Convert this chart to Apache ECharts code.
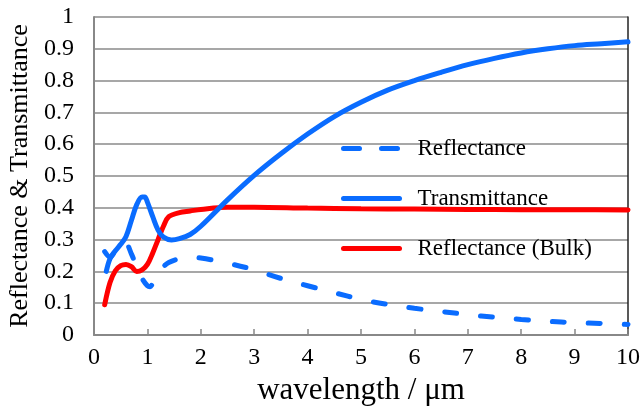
<!DOCTYPE html>
<html>
<head>
<meta charset="utf-8">
<script src="https://cdn.jsdelivr.net/npm/echarts@6/dist/echarts.min.js"></script>
<style>html,body{margin:0;padding:0;background:#fff}#c{width:640px;height:412px}</style>
</head>
<body>
<div id="c"></div>
<script>
var seriesNames = ['Reflectance', 'Transmittance', 'Reflectance (Bulk)'];
var xTicks = [0,1,2,3,4,5,6,7,8,9,10];
var yTicks = [0,0.1,0.2,0.3,0.4,0.5,0.6,0.7,0.8,0.9,1];

var reflWave = [0.2,0.3,0.4,0.5,0.6,0.7,0.8,0.9,1.0,1.05,1.1,1.2,1.3,1.4,1.6,1.8,2.0,2.5,3.0,3.5,4.0,4.5,5.0,5.5,6.0,6.5,7.0,7.5,8.0,8.5,9.0,9.5,10];
var reflVal  = [0.262,0.245,0.265,0.29,0.288,0.255,0.215,0.178,0.155,0.152,0.163,0.195,0.215,0.228,0.24,0.244,0.242,0.226,0.205,0.178,0.155,0.133,0.112,0.096,0.084,0.074,0.064,0.056,0.049,0.043,0.039,0.036,0.033];

var transWave = [0.23,0.3,0.4,0.5,0.6,0.7,0.8,0.9,0.95,1.0,1.1,1.2,1.3,1.45,1.6,1.8,2.0,2.5,3.0,3.5,4.0,4.5,5.0,5.5,6.0,6.5,7.0,7.5,8.0,8.5,9.0,9.5,10];
var transVal  = [0.2,0.24,0.265,0.285,0.31,0.36,0.41,0.434,0.434,0.418,0.372,0.33,0.308,0.299,0.303,0.316,0.342,0.425,0.502,0.57,0.632,0.687,0.732,0.77,0.80,0.826,0.850,0.870,0.887,0.900,0.910,0.916,0.922];

var bulkWave = [0.2,0.3,0.4,0.5,0.6,0.7,0.8,0.9,1.0,1.1,1.2,1.3,1.4,1.6,1.8,2.0,2.5,3.0,4.0,5.0,6.0,7.0,8.0,9.0,10];
var bulkVal  = [0.095,0.165,0.202,0.218,0.222,0.215,0.2,0.205,0.222,0.258,0.3,0.342,0.372,0.385,0.39,0.395,0.402,0.402,0.399,0.397,0.396,0.395,0.394,0.394,0.393];

function pairs(xs, ys){ return xs.map(function(x,i){ return [x, ys[i]]; }); }

var FONT = '"Liberation Serif","Times New Roman",serif';
var BLUE = '#0a6cff', RED = '#ff0000';

var chart = echarts.init(document.getElementById('c'), null, {renderer:'canvas'});
chart.setOption({
  animation: false,
  backgroundColor: '#ffffff',
  grid: {left: 94, right: 12, top: 17, bottom: 77, containLabel: false, outerBoundsMode: 'none'},
  legend: {
    orient: 'vertical', left: 336, top: 132,
    itemWidth: 56, itemHeight: 24, itemGap: 27,
    itemStyle: {opacity: 0},
    lineStyle: {width: 5, cap: 'round'},
    data: [
      {name: seriesNames[0], lineStyle: {type: [16, 22]}},
      {name: seriesNames[1]},
      {name: seriesNames[2]}
    ],
    textStyle: {fontFamily: FONT, fontSize: 23, color: '#000', padding: [0,0,0,13]}
  },
  xAxis: {
    type: 'value', min: xTicks[0], max: xTicks[xTicks.length-1], interval: 1,
    name: 'wavelength / μm', nameLocation: 'middle', nameGap: 37,
    nameTextStyle: {fontFamily: FONT, fontSize: 31, color: '#000'},
    axisLine: {lineStyle: {color: '#888', width: 2}},
    axisTick: {inside: true, length: 6, lineStyle: {color: '#888', width: 1.5}},
    axisLabel: {fontFamily: FONT, fontSize: 24, color: '#000', margin: 11},
    splitLine: {show: false}
  },
  yAxis: [{
    type: 'value', min: yTicks[0], max: yTicks[yTicks.length-1], interval: 0.1,
    name: 'Reflectance & Transmittance', nameLocation: 'middle', nameGap: 55,
    nameTextStyle: {fontFamily: FONT, fontSize: 26, color: '#000'},
    axisLine: {show: true, lineStyle: {color: '#888', width: 2}},
    axisTick: {show: false},
    axisLabel: {fontFamily: FONT, fontSize: 24, color: '#000', margin: 20},
    splitLine: {lineStyle: {color: '#8a8a8a', width: 1.5}}
  }, {
    type: 'value', min: 0, max: 1, position: 'right',
    axisLine: {show: true, lineStyle: {color: '#222', width: 1.5}},
    axisTick: {show: false}, axisLabel: {show: false}, splitLine: {show: false}
  }],
  series: [
    {name: seriesNames[0], type: 'line', data: pairs(reflWave, reflVal), smooth: 0.35,
     showSymbol: false, symbol: 'none', color: BLUE,
     lineStyle: {color: BLUE, width: 5, type: [12, 24], cap: 'round'}, z: 3},
    {name: seriesNames[1], type: 'line', data: pairs(transWave, transVal), smooth: 0.35,
     showSymbol: false, symbol: 'none', color: BLUE,
     lineStyle: {color: BLUE, width: 5, cap: 'round'}, z: 3},
    {name: seriesNames[2], type: 'line', data: pairs(bulkWave, bulkVal), smooth: 0.35,
     showSymbol: false, symbol: 'none', color: RED,
     lineStyle: {color: RED, width: 5, cap: 'round'}, z: 2}
  ]
});
</script>
</body>
</html>
